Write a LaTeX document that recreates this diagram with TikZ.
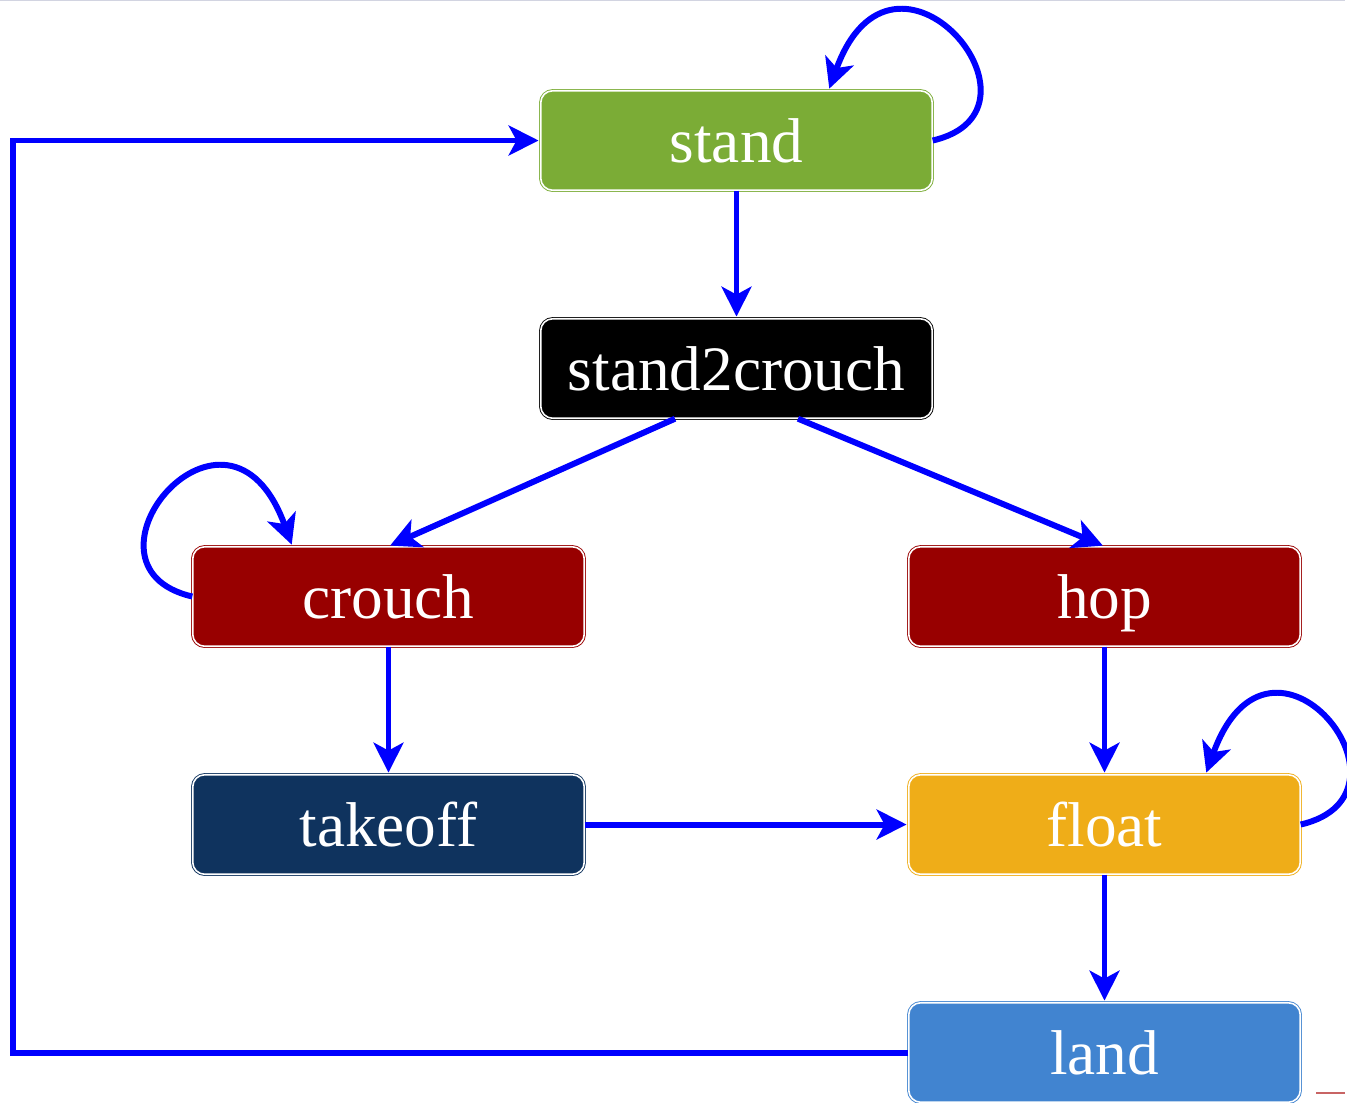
\documentclass[tikz,border=0pt]{standalone}
\usepackage{fontspec}
\setmainfont{Liberation Serif}
\usetikzlibrary{positioning, arrows.meta}

\definecolor{standgreen}{RGB}{123,172,54}
\definecolor{crouchred}{RGB}{152,0,0}
\definecolor{takeoffblue}{RGB}{15,51,94}
\definecolor{floatgold}{RGB}{239,173,24}
\definecolor{landblue}{RGB}{65,132,208}
\definecolor{slideline}{RGB}{210,212,225}
\definecolor{slidered}{RGB}{200,100,100}

\begin{document}
\begin{tikzpicture}[->,>={Stealth[length=17pt,width=17pt,inset=4.5pt]},shorten >=1pt,auto,node distance=4.56cm,on grid,
    thick,box/.style={rectangle,rounded corners=0.24cm,draw=#1,fill=#1,double=white,
    double distance=0.9pt,line width=0.5pt,minimum width=7.83cm,minimum height=1.99cm,
    text=white,text height=24.5pt,text depth=0pt,font=\fontsize{36}{40}\selectfont},
    link/.style={draw=blue,line width=3.4pt}]

\useasboundingbox (-14.73,2.81) rectangle (12.21,-19.23);
\draw[-,slideline,line width=0.6pt] (-14.73,2.80) -- (12.21,2.80);
\draw[-,slidered,line width=0.6pt] (11.59,-19.05) -- (12.21,-19.05);

\node[box=standgreen]   (stand)                                              {stand};
\node[box=black]        (s2c)      [below=of stand]                          {stand2crouch};
\node[box=crouchred]    (crouch)   [below left=4.56cm and 6.96cm of s2c]     {crouch};
\node[box=crouchred]    (hop)      [below right=4.56cm and 7.36cm of s2c]    {hop};
\node[box=takeoffblue]  (takeoff)  [below=of crouch]                         {takeoff};
\node[box=floatgold]    (float)    [below=of hop]                            {float};
\node[box=landblue]     (land)     [below=of float]                          {land};

\draw[link] (stand) -- (s2c);
\draw[link] ([xshift=-1.23cm]s2c.south) -- (crouch.north);
\draw[link] ([xshift=1.23cm]s2c.south) -- (hop.north);
\draw[link] (crouch) -- (takeoff);
\draw[link] (hop) -- (float);
\draw[link] (takeoff) -- (float);
\draw[link] (float) -- (land);
\draw[link] (land.west) -- ++(-17.9,0) |- (stand.west);

% self loops
\draw[link] (stand.east) .. controls +(2.6,0.6) and +(1.3,3.6) .. ([xshift=-2.08cm]stand.north east);
\draw[link] (crouch.west) .. controls +(-2.6,0.6) and +(-1.3,3.6) .. ([xshift=2cm]crouch.north west);
\draw[link] (float.east) .. controls +(2.6,0.6) and +(1.3,3.6) .. ([xshift=-1.9cm]float.north east);

\end{tikzpicture}
\end{document}
